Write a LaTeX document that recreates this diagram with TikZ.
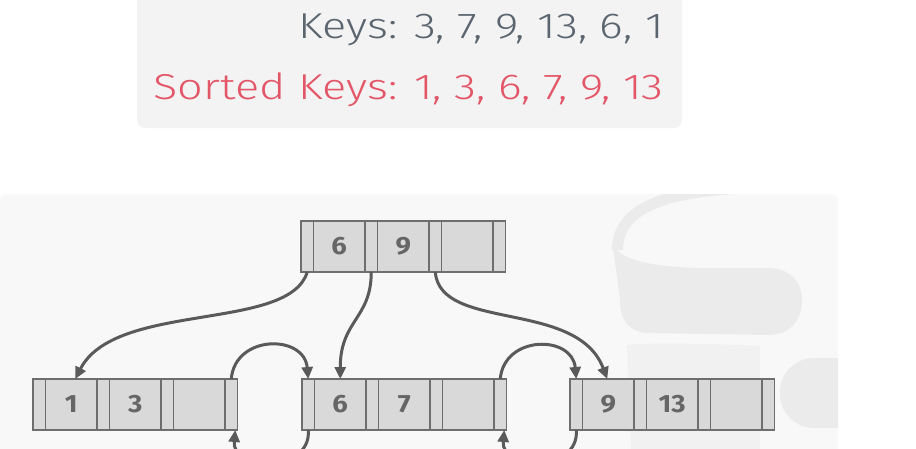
\documentclass[tikz,border=0pt]{standalone}
\usepackage{fontspec}
\setmainfont{Fira Sans}
\newfontfamily\lightfont{Fira Sans Light}
\usetikzlibrary{arrows.meta}
\definecolor{keysgrey}{HTML}{5B6570}
\definecolor{keysred}{HTML}{E35668}
\definecolor{panelA}{HTML}{F3F3F3}
\definecolor{panelB}{HTML}{F8F8F8}
\definecolor{logoc}{HTML}{EBEBEB}
\definecolor{logod}{HTML}{F1F1F1}
\definecolor{cellfill}{HTML}{D9D9D9}
\definecolor{celldraw}{HTML}{6E6E6E}
\definecolor{celltext}{HTML}{666666}
\definecolor{arrowc}{HTML}{5A5A5A}
\tikzset{
  cell/.style={draw=celldraw, fill=cellfill, line width=1.8pt, inner sep=0pt, outer sep=0pt, minimum height=51pt},
  ptr/.style={cell, minimum width=12.5pt},
  keycell/.style={cell, minimum width=51.5pt, font=\fontsize{25}{25}\selectfont\bfseries, text=celltext},
  link/.style={draw=arrowc, line width=3pt, -{Triangle[length=12pt,width=11pt]}},
  keystext/.style={font=\lightfont\fontsize{36}{36}\selectfont, inner sep=0pt, anchor=base east}
}
\newcommand{\bptnode}[6]{%
  \node[ptr, anchor=north west] (#1p0) at (#2,#3) {};
  \node[keycell, anchor=west] (#1k1) at (#1p0.east) {\scalebox{1.1}[1]{#4}};
  \node[ptr, anchor=west] (#1p1) at (#1k1.east) {};
  \node[keycell, anchor=west] (#1k2) at (#1p1.east) {\scalebox{1.1}[1]{#5}};
  \node[ptr, anchor=west] (#1p2) at (#1k2.east) {};
  \node[keycell, anchor=west] (#1k3) at (#1p2.east) {#6};
  \node[ptr, anchor=west] (#1p3) at (#1k3.east) {};
}
\begin{document}
\begin{tikzpicture}[x=1pt, y=-1pt]
\useasboundingbox (0,0) rectangle (916,448);
% top panel
\fill[panelA, rounded corners=8pt] (137,-10) rectangle (682,128);
\node[keystext, text=keysgrey] (keys) at (664,38) {\scalebox{1.25}[1]{Keys: 3, 7, 9, 13, 6, 1}};
\node[keystext, text=keysred] (sorted) at (664,99) {\scalebox{1.25}[1]{Sorted Keys: 1, 3, 6, 7, 9, 13}};
% lower panel
\begin{scope}
\clip[rounded corners=7pt] (0,194) rectangle (838,470);
\fill[panelB] (0,194) rectangle (838,470);
% faint logo
\fill[logod] (627,345) .. controls (640,343) and (700,343) .. (760,346) -- (760,470) -- (632,470) -- cycle;
\fill[logoc] (612,240) .. controls (614,262) and (660,267) .. (700,268) -- (768,268)
  .. controls (790,268) and (802,282) .. (802,300) .. controls (802,320) and (790,335) .. (768,335)
  -- (645,333) .. controls (628,330) and (620,320) .. (620,300) -- cycle;
\draw[logoc, line width=11pt] (617.5,250) .. controls (617.5,215) and (650,192) .. (745,188);
\fill[logoc, rounded corners=34pt] (780,358) rectangle (880,428);
\end{scope}
% nodes
\bptnode{R}{301}{221}{6}{9}{}
\bptnode{A}{33}{379}{1}{3}{}
\bptnode{B}{302}{379}{6}{7}{}
\bptnode{C}{570}{379}{9}{13}{}
% tree pointers
\draw[link] (Rp0.south) .. controls +(-18,60) and +(40,-78) .. ([xshift=4pt]Ak1.north);
\draw[link] (Rp1.south) .. controls +(0,47) and +(0,-59) .. (Bk1.north);
\draw[link] (Rp2.south) .. controls +(5,60) and +(-30,-80) .. ([xshift=-1pt]Ck1.north);
% sibling pointers
\draw[link] (Ap3.north) to[out=85, in=95, looseness=1.5] (Bp0.north);
\draw[link] (Bp0.south) to[out=-85, in=-95, looseness=1.5] ([xshift=4pt]Ap3.south);
\draw[link] (Bp3.north) to[out=85, in=95, looseness=1.5] (Cp0.north);
\draw[link] (Cp0.south) to[out=-85, in=-95, looseness=1.5] ([xshift=4pt]Bp3.south);
\end{tikzpicture}
\end{document}
